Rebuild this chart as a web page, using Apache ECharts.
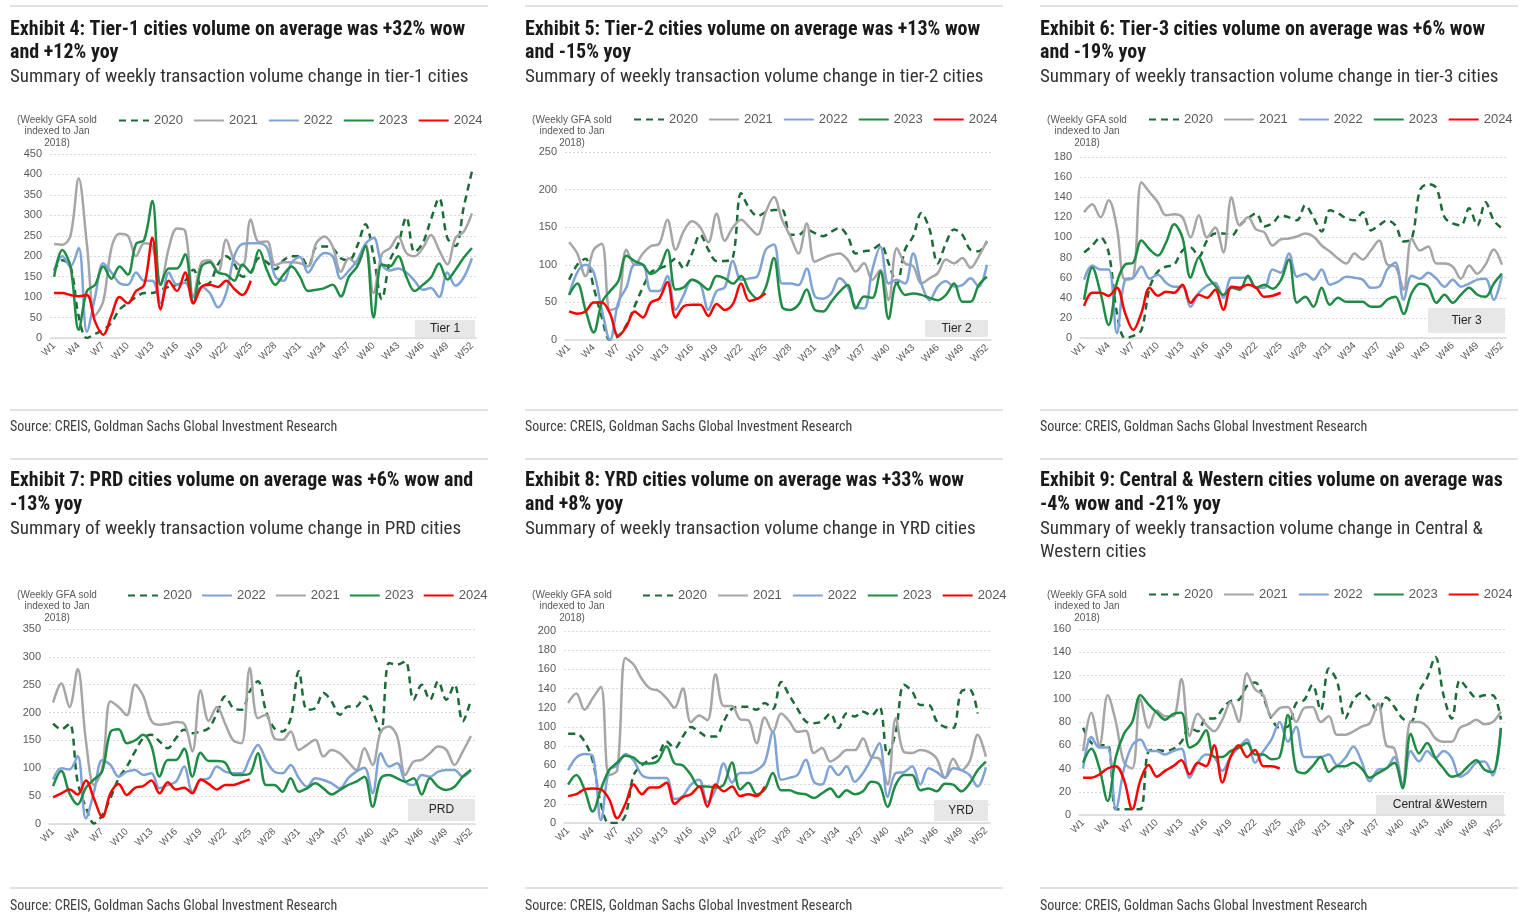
<!DOCTYPE html>
<html><head><meta charset="utf-8">
<script src="https://cdn.jsdelivr.net/npm/echarts@6/dist/echarts.min.js"></script>
<style>html,body{margin:0;padding:0;background:#fff}#c{width:1522px;height:919px}</style>
</head><body><div id="c"></div>
<script>
const weeks = ['W1','W2','W3','W4','W5','W6','W7','W8','W9','W10','W11','W12','W13','W14','W15','W16','W17','W18','W19','W20','W21','W22','W23','W24','W25','W26','W27','W28','W29','W30','W31','W32','W33','W34','W35','W36','W37','W38','W39','W40','W41','W42','W43','W44','W45','W46','W47','W48','W49','W50','W51','W52'];

// Tier-1
const t1_2020 = [165,190,175,53,0,10,20,37,70,85,100,110,110,118,125,130,140,167,130,135,180,200,180,150,160,195,185,168,190,200,200,175,222,224,220,195,190,225,278,200,95,190,230,295,210,232,290,342,245,225,320,407];
const t1_2021 = [230,228,250,390,230,55,90,220,255,250,200,232,225,130,220,268,262,100,185,190,160,240,190,175,290,235,236,178,185,185,183,175,232,248,224,162,195,180,230,110,205,220,248,208,200,220,252,215,180,245,260,305];
const t1_2022 = [165,200,175,220,15,100,183,160,134,130,160,140,140,85,160,130,135,100,125,110,75,110,200,230,232,232,220,150,140,185,198,160,190,208,200,145,165,190,230,245,180,165,170,160,140,118,122,100,160,128,148,195];
const t1_2023 = [150,215,175,20,115,130,175,145,175,155,230,240,335,130,170,170,205,85,175,185,160,155,140,180,160,215,165,130,155,175,150,115,118,122,130,102,150,175,225,50,180,175,200,150,115,130,148,182,143,167,196,220];
const t1_2024 = [110,110,105,102,105,40,8,55,100,85,115,130,245,70,140,115,160,85,125,130,125,140,120,105,140];

// Tier-2
const t2_2020 = [80,100,108,70,30,0,5,20,45,70,90,95,100,108,95,115,140,120,105,105,110,195,175,165,170,173,173,140,140,147,142,138,144,149,138,115,118,120,127,102,75,120,138,169,147,102,129,147,140,120,118,131];
const t2_2021 = [130,115,85,120,128,40,45,120,100,115,125,128,160,120,145,158,150,130,168,132,150,160,150,140,170,190,160,138,115,155,104,109,113,115,107,91,102,80,93,53,122,102,98,75,82,89,107,102,109,96,111,132];
const t2_2022 = [60,90,100,90,40,0,50,70,100,100,65,65,85,40,60,80,75,40,65,70,105,80,82,85,120,127,75,75,73,95,58,55,62,82,71,44,42,93,124,75,80,75,115,75,53,71,78,71,73,82,71,100];
const t2_2023 = [60,75,40,10,50,65,78,112,105,100,88,95,120,67,70,80,75,67,85,82,75,85,65,55,70,109,44,40,47,67,40,38,51,64,73,42,58,56,91,28,75,60,62,60,56,53,60,75,51,51,73,84];
const t2_2024 = [38,35,38,50,50,35,5,18,38,30,50,55,77,30,45,47,47,32,48,40,48,75,52,55,62];

// Tier-3
const t3_2020 = [85,92,100,85,25,0,2,8,50,66,71,73,87,90,81,97,104,104,102,112,119,124,111,114,122,120,117,132,120,106,127,124,119,117,125,107,112,117,112,96,99,147,153,149,120,114,112,129,112,135,117,109];
const t3_2021 = [125,133,120,137,110,58,60,155,145,135,122,123,120,100,122,100,110,85,140,112,120,108,105,92,98,99,101,104,101,92,86,79,74,84,78,87,97,73,71,48,99,87,91,74,74,71,59,72,64,73,88,73];
const t3_2022 = [58,72,68,68,5,58,60,71,59,63,55,51,51,31,45,52,55,40,60,60,60,50,50,68,65,84,61,64,58,68,53,56,61,60,58,50,51,68,75,38,62,59,65,59,51,58,51,54,58,59,38,62];
const t3_2023 = [38,70,45,13,55,73,75,97,88,82,95,113,100,60,80,62,52,43,50,48,62,50,53,49,57,78,35,41,31,50,33,40,36,36,36,31,31,38,41,24,45,54,51,35,43,35,43,50,43,41,54,64];
const t3_2024 = [32,45,45,42,50,25,8,25,50,42,46,45,53,35,43,40,48,28,51,50,53,50,41,42,45];

// PRD
const prd_2020 = [180,170,180,75,30,1,16,46,82,103,130,154,160,148,136,154,169,163,166,172,199,229,208,205,238,256,202,172,166,190,274,205,208,235,220,196,211,211,229,202,166,289,286,292,223,250,223,256,223,250,184,223];
const prd_2021 = [218,252,210,278,150,70,100,220,210,195,250,230,185,178,180,183,180,130,240,185,210,180,150,145,280,190,196,154,151,166,133,142,151,121,133,127,112,97,136,106,166,175,157,88,112,115,127,139,133,106,130,158];
const prd_2022 = [80,100,98,122,10,58,115,106,85,94,97,88,91,64,70,76,103,58,79,82,103,94,91,91,118,142,115,94,91,106,82,67,82,79,73,64,82,94,101,55,127,103,109,76,70,88,85,94,97,97,85,97];
const prd_2023 = [68,95,55,35,65,80,95,165,170,145,150,160,140,85,115,115,135,85,128,113,113,110,88,88,90,127,70,70,58,82,58,64,73,64,53,61,70,76,85,31,82,88,82,76,82,53,82,67,61,67,85,97];
const prd_2024 = [48,55,62,53,78,45,12,55,72,52,65,68,78,55,75,62,65,55,80,72,62,70,70,75,80];

// YRD
const yrd_2020 = [93,93,85,65,20,0,0,8,50,60,66,71,85,78,90,100,95,90,90,106,119,121,121,118,125,119,147,133,119,106,104,106,114,99,114,111,116,112,121,71,95,144,137,123,123,106,100,99,137,139,114,null];
const yrd_2021 = [125,135,118,130,142,50,55,172,165,150,140,138,130,120,140,105,112,107,155,122,122,108,107,83,110,95,114,106,95,96,73,78,64,69,76,76,88,69,67,40,109,74,73,76,74,67,47,67,55,64,92,69];
const yrd_2022 = [55,68,72,70,3,55,60,72,65,50,47,47,47,25,28,40,45,22,35,62,42,52,52,55,63,95,45,47,50,66,43,40,59,50,59,43,52,67,83,27,52,53,59,40,57,53,47,57,55,50,38,58];
const yrd_2023 = [40,50,35,12,35,55,63,70,68,62,62,65,80,62,60,50,38,38,37,40,63,35,42,30,35,52,34,34,31,30,26,31,36,27,34,30,33,43,40,17,40,50,50,34,36,33,41,40,33,41,55,64];
const yrd_2024 = [28,30,35,36,35,25,5,20,40,30,37,37,42,20,27,30,38,17,40,33,38,28,30,28,38];

// Central & Western
const cw_2020 = [75,62,60,60,5,5,5,5,55,56,55,57,63,75,72,83,83,91,98,99,111,114,101,83,75,76,96,99,112,90,126,115,83,99,105,99,89,101,93,83,80,106,118,136,103,83,116,108,101,103,103,82];
const cw_2021 = [55,88,60,103,80,45,40,100,75,90,85,85,117,68,87,78,72,82,97,80,122,108,103,85,92,93,80,92,93,80,85,69,69,72,76,79,96,60,57,26,80,80,76,66,63,63,75,78,82,78,80,89];
const cw_2022 = [40,67,58,58,5,40,60,65,55,55,52,55,57,32,45,52,50,38,50,58,65,45,55,65,80,63,76,50,50,50,52,43,49,59,46,29,39,40,50,26,55,46,55,49,55,49,33,37,45,46,34,75];
const cw_2023 = [45,57,40,12,50,70,80,103,95,88,82,87,88,58,62,73,50,50,55,58,62,52,52,48,50,86,39,36,42,50,37,42,42,45,40,32,36,40,45,23,70,53,62,49,40,33,35,42,47,39,37,75];
const cw_2024 = [32,32,35,40,42,30,5,30,43,33,38,42,47,35,45,42,60,28,50,60,50,56,42,42,40];

const yearStyle = {
  '2020': {color:'#1d6a39', type:[7,5], width:2.5},
  '2021': {color:'#a6a6a6', type:'solid', width:2.5},
  '2022': {color:'#7fa3d5', type:'solid', width:2.5},
  '2023': {color:'#1f8c45', type:'solid', width:2.5},
  '2024': {color:'#ff0000', type:'solid', width:2.5}
};

const NARROW = '"Liberation Sans Narrow","Roboto Condensed","Arial Narrow",sans-serif';
const panels = [
  {col:10, row:0, grid:{left:50,top:154,width:426,height:184}, max:450, step:50,
   title:['Exhibit 4: Tier-1 cities volume on average was +32% wow','and +12% yoy'],
   sub:['Summary of weekly transaction volume change in tier-1 cities'],
   tag:'Tier 1', box:[415,320,60,17], legend:[118,114], order:['2020','2021','2022','2023','2024'], gap:10,
   data:{'2020':t1_2020,'2021':t1_2021,'2022':t1_2022,'2023':t1_2023,'2024':t1_2024}},
  {col:525, row:0, grid:{left:565,top:152,width:426,height:188}, max:250, step:50,
   title:['Exhibit 5: Tier-2 cities volume on average was +13% wow','and -15% yoy'],
   sub:['Summary of weekly transaction volume change in tier-2 cities'],
   tag:'Tier 2', box:[925,320,63,17], legend:[633,113], order:['2020','2021','2022','2023','2024'], gap:10,
   data:{'2020':t2_2020,'2021':t2_2021,'2022':t2_2022,'2023':t2_2023,'2024':t2_2024}},
  {col:1040, row:0, grid:{left:1080,top:157,width:426,height:181}, max:180, step:20,
   title:['Exhibit 6: Tier-3 cities volume on average was +6% wow','and -19% yoy'],
   sub:['Summary of weekly transaction volume change in tier-3 cities'],
   tag:'Tier 3', box:[1428,308,77,25], legend:[1148,113], order:['2020','2021','2022','2023','2024'], gap:10,
   data:{'2020':t3_2020,'2021':t3_2021,'2022':t3_2022,'2023':t3_2023,'2024':t3_2024}},
  {col:10, row:1, grid:{left:49,top:629,width:426,height:195}, max:350, step:50,
   title:['Exhibit 7: PRD cities volume on average was +6% wow and','-13% yoy'],
   sub:['Summary of weekly transaction volume change in PRD cities'],
   tag:'PRD', box:[408,799,67,22], legend:[127,589], order:['2020','2022','2021','2023','2024'], gap:9,
   data:{'2020':prd_2020,'2021':prd_2021,'2022':prd_2022,'2023':prd_2023,'2024':prd_2024}},
  {col:525, row:1, grid:{left:564,top:631,width:426,height:192}, max:200, step:20,
   title:['Exhibit 8: YRD cities volume on average was +33% wow','and +8% yoy'],
   sub:['Summary of weekly transaction volume change in YRD cities'],
   tag:'YRD', box:[934,800,54,21], legend:[642,589], order:['2020','2021','2022','2023','2024'], gap:10,
   data:{'2020':yrd_2020,'2021':yrd_2021,'2022':yrd_2022,'2023':yrd_2023,'2024':yrd_2024}},
  {col:1040, row:1, grid:{left:1079,top:629,width:426,height:186}, max:160, step:20,
   title:['Exhibit 9: Central & Western cities volume on average was','-4% wow and -21% yoy'],
   sub:['Summary of weekly transaction volume change in Central &','Western cities'],
   tag:'Central &Western', box:[1376,795,128,19], legend:[1148,588], order:['2020','2021','2022','2023','2024'], gap:10,
   data:{'2020':cw_2020,'2021':cw_2021,'2022':cw_2022,'2023':cw_2023,'2024':cw_2024}}
];

const rowY = [{top:6, t1:30, t2:53, s1:77, s2:100, src:410, srcT:427, note:120},
              {top:459, t1:481, t2:505, s1:529, s2:552, src:888, srcT:906, note:595}];

const grid=[], xAxis=[], yAxis=[], legend=[], series=[], graphic=[];
panels.forEach((p,i)=>{
  const r = rowY[p.row];
  grid.push(Object.assign({containLabel:false}, p.grid));
  xAxis.push({type:'category', gridIndex:i, data:weeks, boundaryGap:true,
    axisTick:{show:false}, axisLine:{lineStyle:{color:'#d9d9d9', width:1.5}},
    axisLabel:{interval:2, rotate:45, fontSize:10, color:'#595959', margin:6, fontFamily:'Liberation Sans, Arial, sans-serif'}});
  yAxis.push({type:'value', gridIndex:i, min:0, max:p.max, interval:p.step,
    axisLine:{show:false}, axisTick:{show:false},
    axisLabel:{fontSize:11, color:'#595959', margin:8, fontFamily:'Liberation Sans, Arial, sans-serif'},
    splitLine:{lineStyle:{color:'#d9d9d9', type:[2,2]}}});
  legend.push({left:p.legend[0], top:p.legend[1], padding:0, itemWidth:30, itemHeight:14, itemGap:p.gap,
    data:p.order, selectedMode:false,
    itemStyle:{opacity:0, color:'rgba(0,0,0,0)', borderWidth:0},
    textStyle:{fontSize:13, color:'#595959', fontFamily:'Liberation Sans, Arial, sans-serif'}});
  ['2020','2021','2022','2023','2024'].forEach(y=>{
    const s = yearStyle[y];
    series.push({type:'line', name:y, xAxisIndex:i, yAxisIndex:i, data:p.data[y], smooth:0.35,
      symbol:'none', showSymbol:false, animation:false,
      lineStyle:{color:s.color, width:s.width, type:s.type}, itemStyle:{color:s.color}});
  });
  const x0 = p.col, x1 = p.col + 478;
  graphic.push({type:'line', shape:{x1:x0,y1:r.top,x2:x1,y2:r.top}, style:{stroke:'#c4c4c4', lineWidth:1}});
  graphic.push({type:'line', shape:{x1:x0,y1:r.src,x2:x1,y2:r.src}, style:{stroke:'#c4c4c4', lineWidth:1}});
  p.title.forEach((t,k)=>graphic.push({type:'text', x:x0, y:k?r.t2:r.t1,
    style:{text:t, font:'bold 20px '+NARROW, fill:'#1a1a1a', verticalAlign:'middle'}}));
  p.sub.forEach((t,k)=>graphic.push({type:'text', x:x0, y:k?r.s2:r.s1,
    style:{text:t, font:'19px '+NARROW, fill:'#333333', verticalAlign:'middle'}}));
  graphic.push({type:'text', x:x0, y:r.srcT,
    style:{text:'Source: CREIS, Goldman Sachs Global Investment Research', font:'14px '+NARROW, fill:'#404040', verticalAlign:'middle'}});
  const note = ['(Weekly GFA sold','indexed to Jan','2018)'];
  note.forEach((t,k)=>graphic.push({type:'text', x:x0+47, y:r.note+k*11.7,
    style:{text:t, font:'10px Liberation Sans, Arial, sans-serif', fill:'#595959', align:'center', verticalAlign:'middle'}}));
  const b = p.box;
  graphic.push({type:'rect', z:100, shape:{x:b[0], y:b[1], width:b[2], height:b[3]}, style:{fill:'#e7e7e7'}});
  graphic.push({type:'text', z:101, x:b[0]+b[2]/2, y:b[1]+b[3]/2,
    style:{text:p.tag, font:'12px Liberation Sans, Arial, sans-serif', fill:'#262626', align:'center', verticalAlign:'middle'}});
});

const chart = echarts.init(document.getElementById('c'), null, {renderer:'canvas'});
chart.setOption({backgroundColor:'#ffffff', animation:false, grid, xAxis, yAxis, legend, series, graphic});
</script></body></html>
